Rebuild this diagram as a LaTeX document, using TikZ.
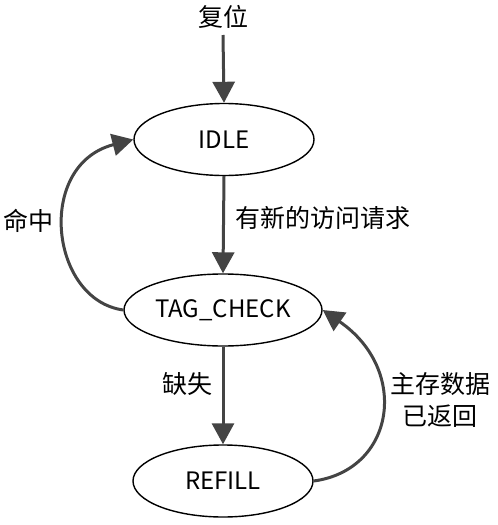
\documentclass[tikz,border=0pt]{standalone}
\usepackage{fontspec}
\setmainfont{Noto Sans CJK SC}
\usetikzlibrary{shapes.geometric,arrows.meta}
\definecolor{arr}{HTML}{444444}
\tikzset{
  state/.style={ellipse,draw=black,line width=1.4pt,minimum height=72pt,inner sep=0pt,font=\fontsize{24}{28}\selectfont},
  lbl/.style={inner sep=0pt,font=\fontsize{25}{30}\selectfont},
  conn/.style={draw=arr,line width=3pt,-{Triangle[length=21pt,width=22pt]}}
}
\begin{document}
\begin{tikzpicture}[x=1pt,y=-1pt]
\useasboundingbox (0,0) rectangle (498,525);
\node[lbl] (reset) at (223,17) {复位};
\node[state,minimum width=180pt] (idle) at (224,139.5) {IDLE};
\node[state,minimum width=198pt] (tag) at (223,310) {TAG\_CHECK};
\node[state,minimum width=180pt] (refill) at (223,481) {REFILL};
\coordinate (rs) at (223,35);
\node[lbl,anchor=west] (req) at (235,218) {有新的访问请求};
\node[lbl] (hit) at (29,221) {命中};
\node[lbl] (miss) at (187,384) {缺失};
\node[lbl,align=center] (ret) at (440,400) {主存数据\\[2pt]已返回};
\draw[conn] (rs) -- (idle.north);
\draw[conn] (idle.south) -- (tag.north);
\draw[conn] (tag.south) -- (refill.north);
\draw[conn] (tag.west) .. controls (50,300) and (35,165) .. (idle.west);
\draw[conn] (refill.east) .. controls (395,470) and (410,370) .. (tag.east);
\end{tikzpicture}
\end{document}
